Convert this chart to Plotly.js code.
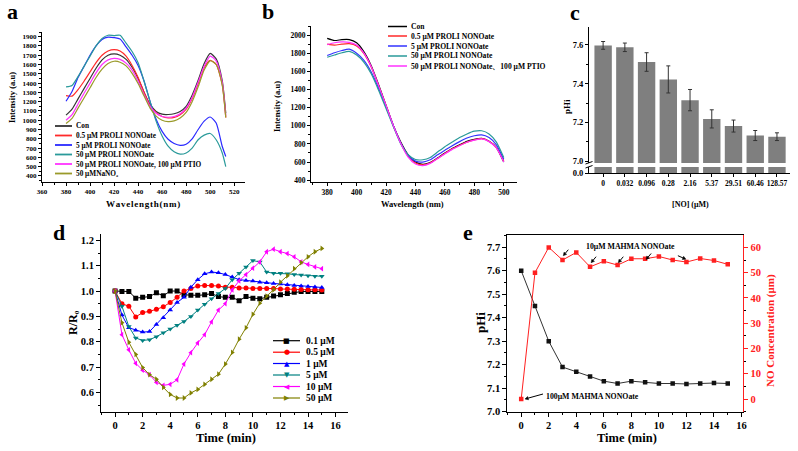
<!DOCTYPE html>
<html><head><meta charset="utf-8">
<script src="https://cdn.plot.ly/plotly-3.0.1.min.js"></script>
<style>html,body{margin:0;padding:0;background:#fff}#chart{width:798px;height:451px}</style>
</head><body><div id="chart"></div>
<script>
// ---------- Panel a : emission spectra ----------
const wlA = [380,385,390,395,400,405,410,415,420,425,430,435,440,445,450,455,460,465,470,475,480,485,490,495,500,505,510,513];
const aCon   = [1055,1120,1230,1340,1450,1560,1650,1700,1715,1700,1655,1570,1450,1300,1170,1095,1065,1062,1070,1095,1150,1270,1430,1610,1720,1660,1430,1075];
const aP05   = [1265,1260,1330,1420,1520,1620,1700,1745,1760,1745,1690,1590,1460,1300,1160,1080,1040,1025,1030,1060,1120,1235,1395,1565,1645,1600,1390,1030];
const aP5    = [1205,1310,1460,1580,1700,1800,1870,1895,1890,1875,1790,1700,1590,1420,1200,1010,880,795,750,730,742,800,900,990,1035,970,720,610];
const aP50   = [1360,1375,1470,1580,1690,1800,1880,1915,1912,1915,1830,1740,1620,1420,1200,990,830,720,660,635,648,700,790,840,857,790,650,500];
const aPTIO  = [1000,1060,1175,1290,1400,1510,1600,1650,1665,1655,1615,1540,1420,1275,1150,1075,1040,1032,1040,1070,1130,1245,1410,1580,1690,1640,1410,1050];
const aNaNO2 = [965,1020,1130,1240,1350,1460,1550,1610,1635,1625,1585,1505,1395,1260,1130,1045,1000,985,993,1025,1085,1200,1360,1540,1640,1600,1380,1030];
const aNames = ['Con','0.5 μM PROLI NONOate','5 μM PROLI NONOate','50 μM PROLI NONOate','50 μM PROLI NONOate, 100 μM PTIO','50 μMNaNO₂'];

// ---------- Panel b : spectra ----------
const wlB = [380,385,390,395,400,405,410,415,420,425,430,435,440,445,450,455,460,465,470,475,480,485,490,495,500];
const bCon  = [1963,1940,1950,1950,1915,1815,1660,1450,1225,1000,820,680,600,575,595,645,700,750,790,830,850,860,830,760,600];
const bP05  = [1900,1890,1900,1905,1880,1795,1645,1440,1225,1000,810,665,590,570,590,640,695,745,785,820,845,858,830,760,610];
const bP5   = [1775,1805,1830,1845,1800,1720,1590,1410,1210,1000,810,675,610,600,625,680,730,780,825,865,890,900,870,790,630];
const bP50  = [1755,1780,1805,1820,1780,1700,1570,1390,1190,990,800,680,628,625,650,710,770,820,870,910,940,945,910,820,650];
const bPTIO = [1895,1915,1925,1920,1890,1800,1650,1440,1225,1000,805,655,578,560,585,638,690,740,780,818,842,855,825,755,600];
const bNames = ['Con','0.5 μM PROLI NONOate','5 μM PROLI NONOate','50 μM PROLI NONOate','50 μM PROLI NONOate、100 μM PTIO'];

// ---------- Panel c : pHi vs [NO] ----------
const cCats = ['0','0.032','0.096','0.28','2.16','5.37','29.51','60.46','128.57'];
const cPHi  = [7.598,7.588,7.512,7.422,7.315,7.218,7.181,7.132,7.126];
const cErr  = [0.02,0.022,0.048,0.07,0.055,0.047,0.031,0.026,0.02];

// ---------- Panel d : R/R0 time course ----------
const dTime = [0,0.5,1,1.5,2,2.5,3,3.5,4,4.5,5,5.5,6,6.5,7,7.5,8,8.5,9,9.5,10,10.5,11,11.5,12,12.5,13,13.5,14,14.5,15];
const d01 = [1.0,0.998,0.998,0.972,0.975,0.978,0.993,0.981,1.0,1.0,0.985,0.983,0.983,0.985,0.99,0.978,0.975,0.975,0.962,0.978,0.972,0.97,0.975,0.98,0.985,0.99,0.995,0.998,0.998,0.998,0.998];
const d05 = [1.0,0.95,0.94,0.898,0.915,0.92,0.928,0.938,0.955,0.975,1.0,1.01,1.02,1.022,1.022,1.02,1.015,1.015,1.012,1.012,1.01,1.01,1.01,1.01,1.008,1.008,1.007,1.006,1.005,1.005,1.004];
const d1  = [1.0,0.905,0.855,0.845,0.838,0.84,0.868,0.895,0.925,0.955,0.975,1.015,1.045,1.068,1.075,1.072,1.065,1.055,1.045,1.042,1.04,1.035,1.033,1.03,1.028,1.025,1.022,1.02,1.018,1.016,1.014];
const d5  = [1.0,0.94,0.86,0.815,0.805,0.808,0.82,0.835,0.85,0.865,0.88,0.9,0.925,0.948,0.97,0.99,1.01,1.045,1.07,1.095,1.12,1.115,1.075,1.07,1.07,1.068,1.065,1.063,1.06,1.058,1.058];
const d10 = [1.0,0.828,0.768,0.715,0.688,0.67,0.64,0.628,0.632,0.65,0.712,0.757,0.795,0.828,0.878,0.925,0.95,1.005,1.04,1.065,1.09,1.115,1.155,1.165,1.155,1.148,1.135,1.115,1.105,1.095,1.088];
const d50 = [1.0,0.875,0.798,0.75,0.698,0.67,0.652,0.62,0.592,0.578,0.578,0.598,0.612,0.632,0.652,0.672,0.712,0.758,0.81,0.855,0.908,0.952,0.98,1.005,1.035,1.06,1.088,1.112,1.135,1.155,1.168];
const dNames = ['0.1 μM','0.5 μM','1 μM','5 μM','10 μM','50 μM'];

// ---------- Panel e : pHi and NO over time ----------
const eTime = [0,1,2,3,4,5,6,7,8,9,10,11,12,13,14,15];
const ePHi  = [7.6,7.45,7.3,7.19,7.17,7.15,7.13,7.12,7.13,7.125,7.12,7.12,7.118,7.12,7.122,7.12];
const eNO   = [0,50,60,55,58,52.3,54.5,53,55.5,55.5,56.4,55,54.2,55.6,54.8,53.3];

// ---------- helpers ----------
const SERIF = '"Liberation Serif", "Times New Roman", serif';
const W = 798, H = 451;
const px = x => x / W;
const py = y => 1 - y / H;

function ax(extra) {
  return Object.assign({
    showline: true, linecolor: '#000', linewidth: 1,
    ticks: 'outside', ticklen: 3, tickwidth: 1, tickcolor: '#000',
    showgrid: false, zeroline: false, fixedrange: true,
    tickfont: {family: SERIF, size: 7, color: '#000', weight: 'bold'}
  }, extra);
}
function minor(dt, len) { return {ticks: 'outside', ticklen: len || 2, dtick: dt, tickcolor: '#000', showgrid: false}; }
function txt(x, y, text, size, o) {
  return Object.assign({xref: 'paper', yref: 'paper', x: px(x), y: py(y), text: text, showarrow: false,
    xanchor: 'center', yanchor: 'middle', font: {family: SERIF, size: size, color: '#000', weight: 'bold'}}, o || {});
}
function hline(x0, x1, y, color, w) {
  return {type: 'line', xref: 'paper', yref: 'paper', x0: px(x0), x1: px(x1), y0: py(y), y1: py(y), line: {color: color, width: w || 1.5}};
}
// small arrow (tail -> head) drawn as shapes, in page pixels
function arrow(x0, y0, x1, y1) {
  const dx = x1 - x0, dy = y1 - y0, L = Math.hypot(dx, dy), ux = dx / L, uy = dy / L;
  const bx = x1 - ux * 3.2, by = y1 - uy * 3.2, nx = -uy * 1.7, ny = ux * 1.7;
  const P = (x, y) => px(x) + ',' + py(y);
  return [
    {type: 'line', xref: 'paper', yref: 'paper', x0: px(x0), y0: py(y0), x1: px(bx), y1: py(by), line: {color: '#000', width: 1}},
    {type: 'path', xref: 'paper', yref: 'paper', path: 'M' + P(x1, y1) + ' L' + P(bx + nx, by + ny) + ' L' + P(bx - nx, by - ny) + ' Z',
      fillcolor: '#000', line: {color: '#000', width: 0.5}}
  ];
}

const colA = ['#333333', '#ff2a2a', '#2a2aff', '#2a9a9a', '#ff33ff', '#9a9a2a'];
const colB = ['#000000', '#ff2a2a', '#3333ff', '#2a9a9a', '#ff33ff'];
const colD = ['#000000', '#ff0000', '#0000ff', '#008080', '#ff00ff', '#808000'];
const symD = ['square', 'circle', 'triangle-up', 'triangle-down', 'triangle-left', 'triangle-right'];
const glyphD = ['■', '●', '▲', '▼', '◀', '▶'];

const traces = [];
[aCon, aP05, aP5, aP50, aPTIO, aNaNO2].forEach((s, i) => traces.push({
  x: wlA, y: s, xaxis: 'x', yaxis: 'y', mode: 'lines', name: aNames[i], showlegend: false,
  line: {color: colA[i], width: 1.2, shape: 'spline', smoothing: 0.6}}));
[bCon, bP05, bP5, bP50, bPTIO].forEach((s, i) => traces.push({
  x: wlB, y: s, xaxis: 'x2', yaxis: 'y2', mode: 'lines', name: bNames[i], showlegend: false,
  line: {color: colB[i], width: 1.2, shape: 'spline', smoothing: 0.6}}));
traces.push({x: cCats, y: cPHi, xaxis: 'x3', yaxis: 'y3', type: 'bar', showlegend: false,
  marker: {color: '#7f7f7f', line: {width: 0}},
  error_y: {type: 'data', array: cErr, visible: true, color: '#333', thickness: 1, width: 2}});
traces.push({x: cCats, y: cPHi, xaxis: 'x3', yaxis: 'y4', type: 'bar', showlegend: false,
  marker: {color: '#7f7f7f', line: {width: 0}}});
[d01, d05, d1, d5, d10, d50].forEach((s, i) => traces.push({
  x: dTime, y: s, xaxis: 'x4', yaxis: 'y5', mode: 'lines+markers', name: dNames[i], showlegend: false,
  line: {color: colD[i], width: 1}, marker: {symbol: symD[i], size: 5, color: colD[i]}}));
traces.push({x: eTime, y: ePHi, xaxis: 'x5', yaxis: 'y6', mode: 'lines+markers', name: 'pHi', showlegend: false,
  line: {color: '#333', width: 1}, marker: {symbol: 'square', size: 4.5, color: '#111'}});
traces.push({x: eTime, y: eNO, xaxis: 'x5', yaxis: 'y7', mode: 'lines+markers', name: 'NO', showlegend: false,
  line: {color: '#ff2020', width: 1}, marker: {symbol: 'square', size: 4.5, color: '#ff2020'}});

const fontD = {family: SERIF, size: 10.5, color: '#000', weight: 'bold'};
const layout = {
  width: W, height: H, margin: {l: 0, r: 0, t: 0, b: 0},
  paper_bgcolor: '#fff', plot_bgcolor: 'rgba(0,0,0,0)', showlegend: false,
  // a
  xaxis: ax({domain: [px(42), px(245)], range: [360, 529], tick0: 360, dtick: 20, anchor: 'y', minor: minor(10)}),
  yaxis: ax({domain: [py(182), py(32)], range: [335, 1950], tick0: 0, dtick: 100, anchor: 'x', minor: minor(50)}),
  // b
  xaxis2: ax({domain: [px(311), px(517)], range: [369, 509], tick0: 380, dtick: 20, anchor: 'y2', minor: minor(10),
    tickfont: {family: SERIF, size: 7.5, color: '#000', weight: 'bold'}}),
  yaxis2: ax({domain: [py(182), py(26)], range: [380, 2100], tick0: 0, dtick: 200, anchor: 'x2', minor: minor(100),
    tickfont: {family: SERIF, size: 7.5, color: '#000', weight: 'bold'}}),
  // c
  xaxis3: ax({domain: [px(589), px(790)], type: 'category', range: [-0.65, 8.6], anchor: 'y4',
    tickfont: {family: SERIF, size: 7.5, color: '#000', weight: 'bold'}}),
  yaxis3: ax({domain: [py(163), py(27)], range: [6.99, 7.693], tick0: 7.0, dtick: 0.2, tickformat: '.1f', anchor: 'x3', minor: minor(0.1),
    tickfont: {family: SERIF, size: 8.5, color: '#000', weight: 'bold'}}),
  yaxis4: ax({domain: [py(173), py(167)], range: [0, 1], tickvals: [0], ticktext: ['0.0'], anchor: 'x3',
    tickfont: {family: SERIF, size: 8.5, color: '#000', weight: 'bold'}}),
  // d
  xaxis4: ax({domain: [px(101), px(348)], range: [-1.02, 16.9], tick0: 0, dtick: 2, anchor: 'y5', minor: minor(1), ticklen: 4, tickfont: fontD}),
  yaxis5: ax({domain: [py(411.7), py(234)], range: [0.524, 1.225], tick0: 0.6, dtick: 0.1, tickformat: '.1f', anchor: 'x4', minor: minor(0.05), ticklen: 4, tickfont: fontD}),
  // e
  xaxis5: ax({domain: [px(507.3), px(743.3)], range: [-1.01, 16.13], tick0: 0, dtick: 2, anchor: 'y6', minor: minor(1), ticklen: 4, tickfont: fontD, mirror: true}),
  yaxis6: ax({domain: [py(411.7), py(235)], range: [7.0, 7.752], tick0: 7.0, dtick: 0.1, tickformat: '.1f', anchor: 'x5', minor: minor(0.05), ticklen: 4, tickfont: fontD}),
  yaxis7: ax({overlaying: 'y6', side: 'right', anchor: 'x5', range: [-5.02, 64.9], tick0: 0, dtick: 10, minor: minor(5),
    linecolor: '#ff2020', tickcolor: '#ff2020', ticklen: 4, tickfont: {family: SERIF, size: 10.5, color: '#ff2020', weight: 'bold'}}),
  shapes: [
    // axis break marks (panel c)
    {type: 'line', xref: 'paper', yref: 'paper', x0: px(585.5), x1: px(592.5), y0: py(164), y1: py(161.5), line: {color: '#000', width: 1}},
    {type: 'line', xref: 'paper', yref: 'paper', x0: px(585.5), x1: px(592.5), y0: py(168), y1: py(165.5), line: {color: '#000', width: 1}}
  ],
  annotations: []
};

const A = layout.annotations, S = layout.shapes;
// panel letters
A.push(txt(12, 11, 'a', 22), txt(268, 11, 'b', 22), txt(575, 12, 'c', 22), txt(59, 232, 'd', 22), txt(468, 232, 'e', 22));
// axis titles
A.push(txt(12, 98, 'Intensity (a.u)', 8.5, {textangle: -90}));
A.push(txt(143, 204, 'W\u200Aa\u200Av\u200Ae\u200Al\u200Ae\u200An\u200Ag\u200At\u200Ah\u200A(\u200An\u200Am\u200A)', 9));
A.push(txt(277, 107, 'Intensity (a.u)', 8.5, {textangle: -90}));
A.push(txt(412, 204, 'Wavelength (nm)', 8.5));
A.push(txt(567, 107, 'pHi', 9, {textangle: -90}));
A.push(txt(690, 204, '[NO] (μM)', 8));
A.push(txt(73, 323, 'R/R₀', 12, {textangle: -90}));
A.push(txt(226, 438, 'Time (min)', 12.5));
A.push(txt(480, 323, 'pHi', 13, {textangle: -90}));
A.push(txt(627, 438, 'Time (min)', 12.5));
A.push(txt(770, 331, 'NO Concentration (μm)', 11, {textangle: -90, font: {family: SERIF, size: 11, color: '#ff2020', weight: 'bold'}}));

// legend a
const aLegY = [126, 135.5, 145, 154.5, 164, 173.5];
aNames.forEach((n, i) => { S.push(hline(55, 72, aLegY[i], colA[i], 1.8)); A.push(txt(74, aLegY[i], n, 7.3, {xanchor: 'left'})); });
// legend b
const bLegY = [26.5, 36, 46, 56, 66];
bNames.forEach((n, i) => { S.push(hline(388, 407, bLegY[i], colB[i], 1.5)); A.push(txt(409, bLegY[i], n, 7.6, {xanchor: 'left'})); });
// legend d
const dLegY = [340.7, 352.2, 363.5, 375, 386.5, 398];
dNames.forEach((n, i) => {
  S.push(hline(273, 300, dLegY[i], colD[i], 1.2));
  A.push(txt(286.5, dLegY[i], glyphD[i], 7, {font: {family: 'DejaVu Sans', size: 7, color: colD[i]}}));
  A.push(txt(304, dLegY[i], n, 9.5, {xanchor: 'left'}));
});

// panel e notes and pointer arrows (tail -> head, page px)
A.push(txt(630, 246.5, '10μM MAHMA NONOate', 7.8));
A.push(txt(592, 396, '100μM MAHMA NONOate', 7.8));
[[568.3, 249.7, 563.3, 255.7], [596.1, 256.7, 591.1, 262.7], [623.3, 256.7, 618.3, 262.7],
 [651.1, 253.5, 646.1, 259.5], [677.9, 255.7, 685.9, 259.2], [543, 394, 525, 399]].forEach(a => {
  arrow(a[0], a[1], a[2], a[3]).forEach(s => S.push(s));
});

Plotly.newPlot('chart', traces, layout, {displayModeBar: false, staticPlot: true});
</script>
</body></html>
